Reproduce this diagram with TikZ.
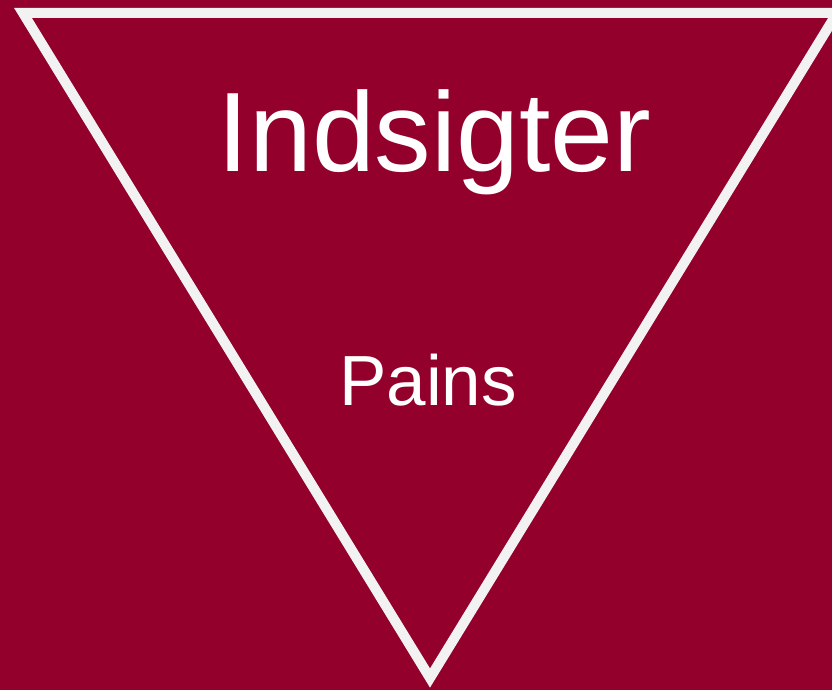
\documentclass[tikz,border=0pt]{standalone}
\usepackage{fontspec}
\setmainfont{Liberation Sans}
\definecolor{bg}{HTML}{93002C}
\definecolor{edge}{HTML}{F2F2F2}

\begin{document}
\begin{tikzpicture}[x=1pt,y=-1pt,line join=miter,
  frame/.style={draw=edge,line width=10pt},
  head/.style={text=white,inner sep=0pt,anchor=base,font=\fontsize{113}{113}\selectfont},
  sub/.style={text=white,inner sep=0pt,anchor=base,font=\fontsize{71}{71}\selectfont}]
  \clip (0,0) rectangle (832,690);
  \fill[bg] (0,0) rectangle (832,690);

  \coordinate (TL) at (23,13);    % top left corner
  \coordinate (TR) at (837,13);   % top right corner (runs off the edge)
  \coordinate (BT) at (430,678);  % bottom tip

  % ---- inverted triangle ----
  \draw[frame] (TL) -- (TR) -- (BT) -- cycle;

  % ---- labels ----
  \node[head] (insight) at (434.5,171.5) {Indsigter};
  \node[sub] (pains) at (428,405) {Pains};
\end{tikzpicture}
\end{document}
